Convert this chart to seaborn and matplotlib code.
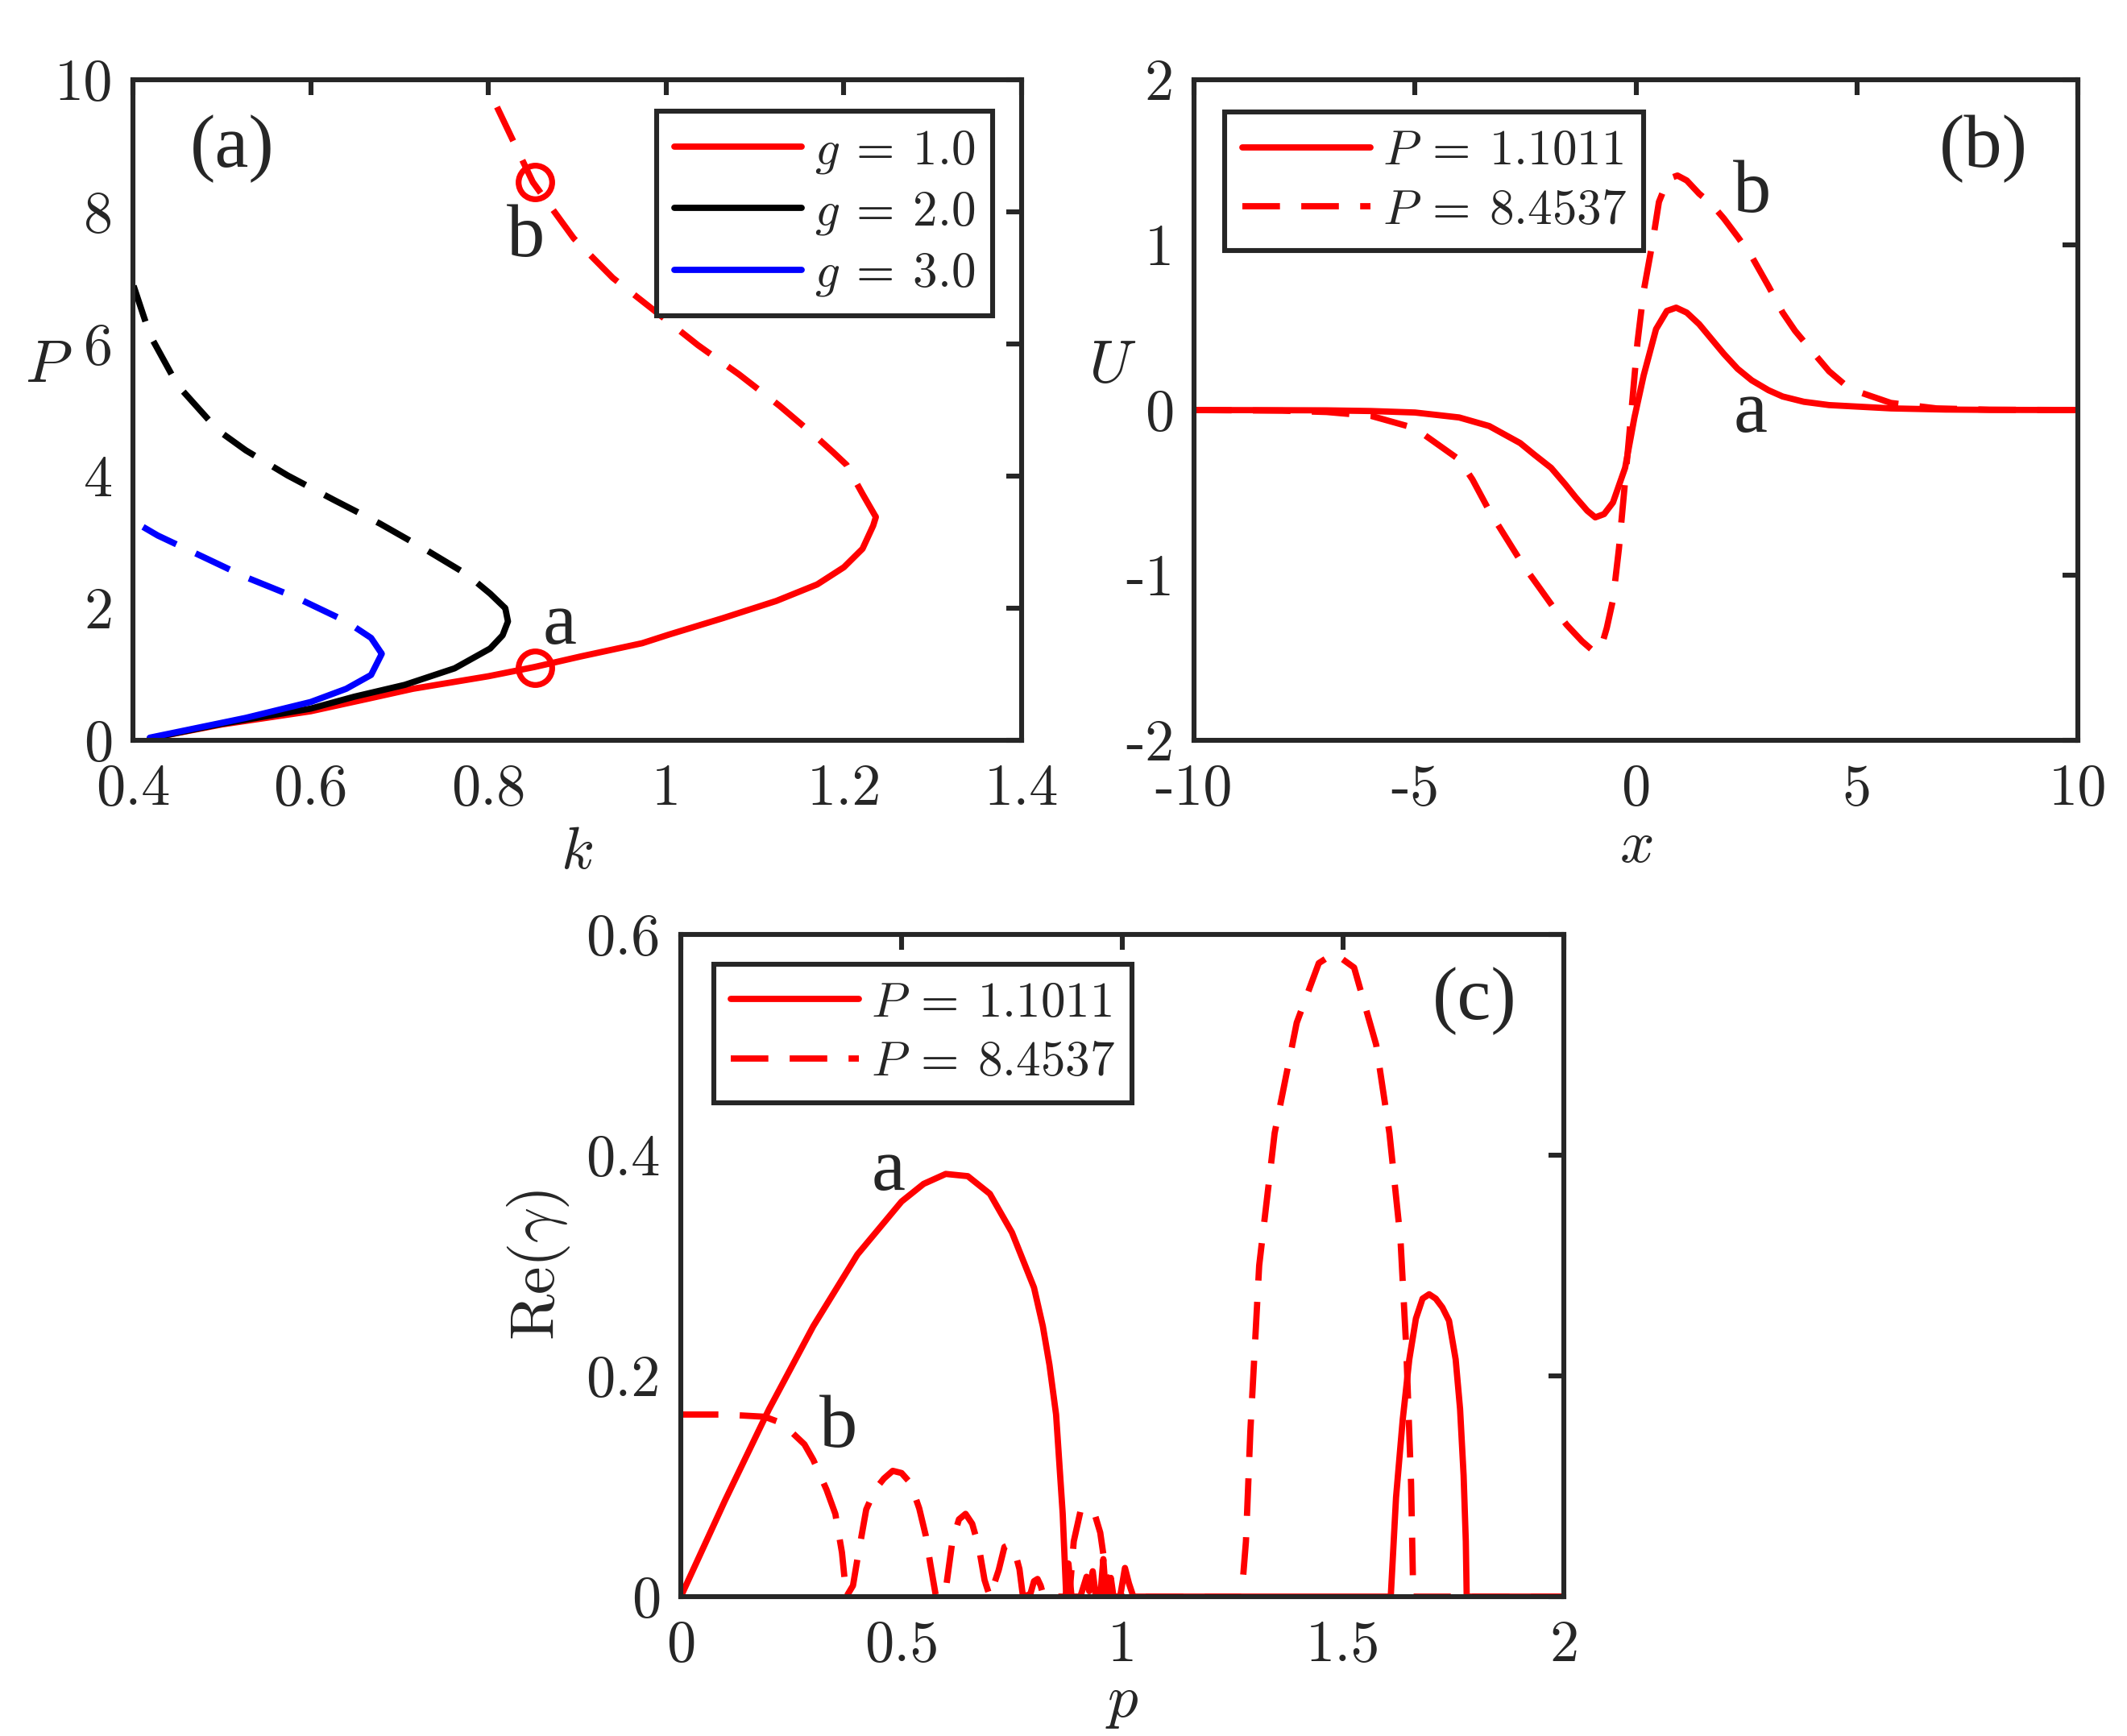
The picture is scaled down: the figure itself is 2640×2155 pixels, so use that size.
import numpy as np
import matplotlib
matplotlib.use("Agg")
import matplotlib.pyplot as plt
from matplotlib.ticker import FuncFormatter
import seaborn as sns

# -----------------------------
# Data
# -----------------------------
# (a) P versus k, stable (solid) and unstable (dashed) branches
k_g1_solid = [0.419, 0.5, 0.6, 0.668, 0.715, 0.8, 0.852, 0.904, 0.973, 1.003, 1.064, 1.124,
              1.17, 1.2, 1.221, 1.233, 1.236]
P_g1_solid = [0.03, 0.24, 0.44, 0.64, 0.78, 0.97, 1.11, 1.27, 1.47, 1.6, 1.85, 2.11,
              2.36, 2.62, 2.90, 3.25, 3.38]
k_g1_dash = [1.236, 1.221, 1.203, 1.188, 1.17, 1.128, 1.082, 1.036, 0.991, 0.94, 0.896, 0.85, 0.8]
P_g1_dash = [3.38, 3.73, 4.17, 4.36, 4.58, 5.06, 5.54, 5.98, 6.46, 7.0, 7.6, 8.45, 9.86]

k_g2_solid = [0.419, 0.5, 0.6, 0.649, 0.706, 0.762, 0.802, 0.816, 0.822, 0.819]
P_g2_solid = [0.03, 0.25, 0.48, 0.66, 0.84, 1.09, 1.39, 1.59, 1.80, 2.0]
k_g2_dash = [0.819, 0.802, 0.776, 0.729, 0.678, 0.626, 0.574, 0.527, 0.496, 0.45, 0.419, 0.4]
P_g2_dash = [2.0, 2.22, 2.51, 2.89, 3.28, 3.64, 4.01, 4.39, 4.69, 5.38, 6.14, 6.91]

k_g3_solid = [0.419, 0.527, 0.6, 0.64, 0.668, 0.68]
P_g3_solid = [0.04, 0.34, 0.58, 0.78, 0.99, 1.31]
k_g3_dash = [0.68, 0.668, 0.64, 0.584, 0.527, 0.48, 0.428, 0.4]
P_g3_dash = [1.31, 1.55, 1.80, 2.16, 2.47, 2.77, 3.10, 3.32]

k_marks = [0.852, 0.852]
P_marks = [1.1011, 8.4537]

# (b) soliton profiles U(x)
x_a = [-10, -8, -7, -6, -5, -4, -3.32, -2.62, -2.3, -1.92, -1.6, -1.36, -1.1, -0.92, -0.72,
       -0.52, -0.245, -0.035, 0.175, 0.455, 0.7, 0.91, 1.15, 1.43, 1.99, 2.3, 2.62, 3.0, 3.32,
       3.8, 4.37, 5.77, 7, 8, 10]
U_a = [0, -0.001, -0.002, -0.006, -0.015, -0.045, -0.097, -0.20, -0.27, -0.35, -0.45, -0.53,
       -0.61, -0.65, -0.63, -0.56, -0.35, -0.046, 0.21, 0.49, 0.60, 0.62, 0.59, 0.52, 0.34,
       0.25, 0.18, 0.12, 0.082, 0.05, 0.03, 0.01, 0.003, 0.001, 0]
x_b = [-10, -8, -7, -6, -5, -4, -3.7, -3.32, -2.9, -2.55, -2.2, -1.8, -1.57, -1.22, -0.94,
       -0.78, -0.66, -0.52, -0.385, -0.245, -0.1, 0.035, 0.175, 0.385, 0.52, 0.73, 0.94, 1.15,
       1.43, 1.7, 1.99, 2.3, 2.62, 3.0, 3.32, 3.6, 3.88, 4.37, 4.7, 5.07, 5.77, 6.8, 8, 10]
U_b = [0, -0.004, -0.012, -0.035, -0.11, -0.30, -0.42, -0.61, -0.79, -0.94, -1.07, -1.22,
       -1.30, -1.40, -1.465, -1.43, -1.32, -1.15, -0.84, -0.43, 0.0, 0.41, 0.72, 1.03, 1.26,
       1.40, 1.42, 1.39, 1.31, 1.25, 1.16, 1.05, 0.93, 0.75, 0.59, 0.48, 0.39, 0.235, 0.16,
       0.107, 0.043, 0.01, 0.002, 0]

# (c) instability growth rate Re(gamma) versus p
p_a = [0, 0.1, 0.2, 0.3, 0.4, 0.5, 0.55, 0.6, 0.65, 0.7, 0.75, 0.8, 0.82, 0.835, 0.85, 0.865,
       0.873, 0.878, 0.885, 0.905, 0.919, 0.925, 0.933, 0.94, 0.95, 0.957, 0.963, 0.968, 0.974,
       0.98, 0.995, 1.006, 1.015, 1.025, 1.608, 1.62, 1.635, 1.65, 1.665, 1.68, 1.695, 1.71,
       1.725, 1.74, 1.755, 1.765, 1.773, 1.778, 1.78, 2.0]
g_a = [0, 0.087, 0.17, 0.245, 0.31, 0.358, 0.374, 0.383, 0.381, 0.365, 0.33, 0.28, 0.245, 0.21,
       0.165, 0.075, 0, 0.03, 0, 0, 0.018, 0.005, 0.023, 0, 0, 0.034, 0, 0, 0.017, 0, 0, 0.026,
       0.012, 0, 0, 0.09, 0.16, 0.215, 0.252, 0.27, 0.274, 0.27, 0.262, 0.25, 0.215, 0.17, 0.11,
       0.05, 0, 0]
p_b = [0, 0.1, 0.19, 0.23, 0.28, 0.30, 0.33, 0.35, 0.365, 0.375, 0.39, 0.40, 0.42, 0.44, 0.46,
       0.48, 0.50, 0.52, 0.54, 0.555, 0.565, 0.578, 0.60, 0.615, 0.63, 0.645, 0.66, 0.675, 0.688,
       0.70, 0.72, 0.733, 0.745, 0.757, 0.767, 0.775, 0.78, 0.79, 0.80, 0.808, 0.815, 0.822,
       0.88, 0.89, 0.905, 0.92, 0.935, 0.95, 0.96, 0.97, 1.27, 1.28, 1.29, 1.31, 1.345, 1.395,
       1.445, 1.48, 1.525, 1.575, 1.605, 1.63, 1.643, 1.654, 1.659, 2.0]
g_b = [0.165, 0.165, 0.163, 0.157, 0.138, 0.124, 0.097, 0.075, 0.04, 0, 0.01, 0.034, 0.079,
       0.097, 0.107, 0.114, 0.112, 0.103, 0.08, 0.055, 0.03, 0, 0.006, 0.05, 0.07, 0.075, 0.066,
       0.045, 0.015, 0, 0.024, 0.045, 0.047, 0.04, 0.025, 0, 0.012, 0, 0.014, 0.016, 0.01, 0,
       0, 0.05, 0.077, 0.08, 0.078, 0.058, 0.03, 0, 0, 0.05, 0.15, 0.30, 0.42, 0.52, 0.574,
       0.583, 0.57, 0.50, 0.42, 0.324, 0.226, 0.103, 0, 0]

legend_a = ['$g\\:=\\:1.0$', '$g\\:=\\:2.0$', '$g\\:=\\:3.0$']
legend_bc = ['$P\\:=\\:1.1011$', '$P\\:=\\:8.4537$']

# -----------------------------
# Style
# -----------------------------
sns.set_style("white")
plt.rcParams['font.family'] = ['cmr10', 'DejaVu Serif']
plt.rcParams['mathtext.fontset'] = 'cm'
plt.rcParams['axes.unicode_minus'] = False
plt.rcParams['axes.formatter.use_mathtext'] = False

DARK = '#262626'
LW = 2.8
SPINE_LW = 2.2
TICK_FS = 26
LABEL_FS = 27
LEG_FS = 22
NOTE_FS = 34
NOTE_FONT = 'Liberation Serif'
DASH = (0, (6.0, 3.4))

fig = plt.figure(figsize=(13.2, 10.775), dpi=200)
W, H = 2640, 2155
ax_a = fig.add_axes([165 / W, 1 - 919 / H, 1103 / W, 820 / H])
ax_b = fig.add_axes([1482 / W, 1 - 919 / H, 1097 / W, 820 / H])
ax_c = fig.add_axes([845 / W, 1 - 1982 / H, 1096 / W, 822 / H])


def style_axes(ax):
    for s in ax.spines.values():
        s.set_color(DARK)
        s.set_linewidth(SPINE_LW)
    ax.tick_params(direction='in', top=True, right=True, length=7, width=SPINE_LW,
                   color=DARK, labelcolor=DARK, labelsize=TICK_FS)
    ax.tick_params(axis='x', pad=10.5)
    ax.tick_params(axis='y', pad=9)
    fmt = FuncFormatter(lambda v, pos: f'{v:g}')
    ax.xaxis.set_major_formatter(fmt)
    ax.yaxis.set_major_formatter(fmt)


def line(ax, x, y, color, dashed=False):
    sns.lineplot(x=x, y=y, ax=ax, color=color, lw=LW, sort=False, estimator=None,
                 linestyle=DASH if dashed else '-', legend=False)
    return ax.lines[-1]


def make_legend(ax, handles, labels, anchor, loc):
    leg = ax.legend(handles, labels, loc=loc, bbox_to_anchor=anchor, fontsize=LEG_FS,
                    frameon=True, fancybox=False, framealpha=1, edgecolor=DARK,
                    handlelength=2.6, handletextpad=0.25, labelspacing=0.3,
                    borderpad=0.35, borderaxespad=0)
    leg.get_frame().set_linewidth(SPINE_LW)
    return leg


def note(ax, x, y, s):
    ax.text(x, y, s, fontsize=NOTE_FS, family=NOTE_FONT, ha='center', va='center')


# -----------------------------
# (a)
# -----------------------------
h1 = line(ax_a, k_g1_solid, P_g1_solid, 'red')
line(ax_a, k_g1_dash, P_g1_dash, 'red', dashed=True)
h2 = line(ax_a, k_g2_solid, P_g2_solid, 'black')
line(ax_a, k_g2_dash, P_g2_dash, 'black', dashed=True)
h3 = line(ax_a, k_g3_solid, P_g3_solid, 'blue')
line(ax_a, k_g3_dash, P_g3_dash, 'blue', dashed=True)
ax_a.plot(k_marks, P_marks, 'o', ms=15, mfc='none', mec='red', mew=2.6)
ax_a.set_xlim(0.4, 1.4)
ax_a.set_ylim(0, 10)
ax_a.set_xticks([0.4, 0.6, 0.8, 1.0, 1.2, 1.4])
ax_a.set_yticks([0, 2, 4, 6, 8, 10])
style_axes(ax_a)
ax_a.set_xlabel('$k$', fontsize=LABEL_FS)
ax_a.set_ylabel('$P$', fontsize=LABEL_FS, rotation=0, ha='center', va='center')
ax_a.xaxis.set_label_coords(0.5, -0.13)
ax_a.yaxis.set_label_coords(-0.095, 0.566)
make_legend(ax_a, [h1, h2, h3], legend_a, (0.967, 0.952), 'upper right')
note(ax_a, 0.512, 8.96, '(a)')
note(ax_a, 0.842, 7.6, 'b')
note(ax_a, 0.88, 1.74, 'a')

# -----------------------------
# (b)
# -----------------------------
hb1 = line(ax_b, x_a, U_a, 'red')
hb2 = line(ax_b, x_b, U_b, 'red', dashed=True)
ax_b.set_xlim(-10, 10)
ax_b.set_ylim(-2, 2)
ax_b.set_xticks([-10, -5, 0, 5, 10])
ax_b.set_yticks([-2, -1, 0, 1, 2])
style_axes(ax_b)
ax_b.set_xlabel('$x$', fontsize=LABEL_FS)
ax_b.set_ylabel('$U$', fontsize=LABEL_FS, rotation=0, ha='center', va='center')
ax_b.xaxis.set_label_coords(0.5, -0.12)
ax_b.yaxis.set_label_coords(-0.092, 0.566)
make_legend(ax_b, [hb1, hb2], legend_bc, (0.035, 0.951), 'upper left')
note(ax_b, 7.87, 1.58, '(b)')
note(ax_b, 2.62, 1.31, 'b')
note(ax_b, 2.59, -0.02, 'a')

# -----------------------------
# (c)
# -----------------------------
hc1 = line(ax_c, p_a, g_a, 'red')
hc2 = line(ax_c, p_b, g_b, 'red', dashed=True)
ax_c.set_xlim(0, 2)
ax_c.set_ylim(0, 0.6)
ax_c.set_xticks([0, 0.5, 1, 1.5, 2])
ax_c.set_yticks([0, 0.2, 0.4, 0.6])
style_axes(ax_c)
ax_c.set_xlabel('$p$', fontsize=LABEL_FS)
ax_c.set_ylabel('$\\mathrm{Re}(\\gamma)$', fontsize=28)
ax_c.xaxis.set_label_coords(0.5, -0.12)
ax_c.yaxis.set_label_coords(-0.123, 0.5)
make_legend(ax_c, [hc1, hc2], legend_bc, (0.037, 0.955), 'upper left')
note(ax_c, 1.797, 0.54, '(c)')
note(ax_c, 0.471, 0.385, 'a')
note(ax_c, 0.357, 0.152, 'b')

fig.savefig('out.png', dpi=200, facecolor='white')
